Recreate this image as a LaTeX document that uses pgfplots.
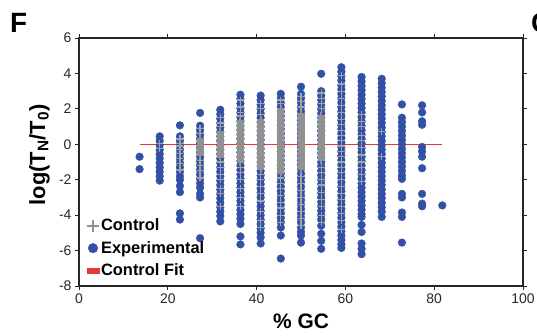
\documentclass[border=0pt]{standalone}
\usepackage{fontspec}
\setmainfont{Liberation Sans}
\usepackage{pgfplots}
\pgfplotsset{compat=1.18}
\definecolor{expblue}{RGB}{50,80,165}
\definecolor{ctlgray}{RGB}{145,145,145}
\definecolor{fitred}{RGB}{232,55,55}
\begin{document}
\begin{tikzpicture}[x=1bp,y=1bp]
\begin{axis}[
  at={(79bp,-286bp)}, anchor=south west, scale only axis,
  width=444bp, height=248bp,
  xmin=0, xmax=100, ymin=-8, ymax=6,
  xtick={0,20,40,60,80,100}, ytick={-8,-6,-4,-2,0,2,4,6},
  tick align=outside, major tick length=4bp,
  axis line style={line width=1.2bp, black!85},
  tick style={line width=1bp, black!85},
  ticklabel style={font=\fontsize{14}{16}\selectfont, text=black!85},
  /pgf/number format/assume math mode=true,
  clip=false,
  exp/.style={only marks, mark=*, mark size=3.9bp, color=expblue, mark options={draw=expblue, fill=expblue, line width=0.3bp}, forget plot},
  ctl/.style={only marks, mark=+, mark size=3.5bp, color=ctlgray!85!white, mark options={line width=1.2bp}, forget plot},
  ctld/.style={only marks, mark=+, mark size=3.5bp, color=ctlgray, mark options={line width=1.9bp}, forget plot},
  legend style={draw=none, fill=none, at={(axis cs:1.5,-4.15)}, anchor=north west,
    font=\bfseries\fontsize{16.5}{18}\selectfont, row sep=7bp, inner sep=0pt,
    nodes={inner sep=1bp}},
  legend cell align=left,
]
% Experimental
\addplot[exp] coordinates {(13.64,-0.7)(13.64,-1.4)};
\addplot[exp] coordinates {(18.18,0.45)(18.18,0.2)(18.18,-0.05)(18.18,-0.3)(18.18,-0.55)(18.18,-0.8)(18.18,-1.05)(18.18,-1.3)(18.18,-1.55)(18.18,-1.8)(18.18,-2.05)};
\addplot[exp] coordinates {(22.73,1.07)(22.73,0.45)(22.73,0.2)(22.73,-0.05)(22.73,-0.3)(22.73,-0.55)(22.73,-0.8)(22.73,-1.05)(22.73,-1.3)(22.73,-1.55)(22.73,-1.8)(22.73,-2.0)(22.73,-2.35)(22.73,-2.7)(22.73,-3.9)(22.73,-4.25)};
\addplot[exp] coordinates {(27.27,1.77)(27.27,1.05)(27.27,0.8)(27.27,0.55)(27.27,0.3)(27.27,0.05)(27.27,-0.2)(27.27,-0.45)(27.27,-0.7)(27.27,-0.95)(27.27,-1.2)(27.27,-1.45)(27.27,-1.7)(27.27,-1.95)(27.27,-2.2)(27.27,-2.45)(27.27,-2.8)(27.27,-3.0)(27.27,-5.3)};
\addplot[exp] coordinates {(31.82,1.95)(31.82,1.7)(31.82,1.45)(31.82,1.2)(31.82,0.95)(31.82,0.7)(31.82,0.45)(31.82,0.2)(31.82,-0.05)(31.82,-0.3)(31.82,-0.55)(31.82,-0.8)(31.82,-1.05)(31.82,-1.3)(31.82,-1.55)(31.82,-1.8)(31.82,-2.05)(31.82,-2.3)(31.82,-2.55)(31.82,-2.8)(31.82,-3.05)(31.82,-3.3)(31.82,-3.55)(31.82,-3.8)(31.82,-4.05)(31.82,-4.35)};
\addplot[exp] coordinates {(36.36,2.8)(36.36,2.55)(36.36,2.3)(36.36,2.05)(36.36,1.8)(36.36,1.55)(36.36,1.3)(36.36,1.05)(36.36,0.8)(36.36,0.55)(36.36,0.3)(36.36,0.05)(36.36,-0.2)(36.36,-0.45)(36.36,-0.7)(36.36,-0.95)(36.36,-1.2)(36.36,-1.45)(36.36,-1.7)(36.36,-1.95)(36.36,-2.2)(36.36,-2.45)(36.36,-2.7)(36.36,-2.95)(36.36,-3.2)(36.36,-3.45)(36.36,-3.7)(36.36,-3.95)(36.36,-4.2)(36.36,-4.5)(36.36,-5.2)(36.36,-5.65)};
\addplot[exp] coordinates {(40.91,2.75)(40.91,2.5)(40.91,2.25)(40.91,2.0)(40.91,1.75)(40.91,1.5)(40.91,1.25)(40.91,1.0)(40.91,0.75)(40.91,0.5)(40.91,0.25)(40.91,0)(40.91,-0.25)(40.91,-0.5)(40.91,-0.75)(40.91,-1.0)(40.91,-1.25)(40.91,-1.5)(40.91,-1.75)(40.91,-2.0)(40.91,-2.25)(40.91,-2.5)(40.91,-2.75)(40.91,-3.0)(40.91,-3.25)(40.91,-3.5)(40.91,-3.75)(40.91,-4.0)(40.91,-4.25)(40.91,-4.5)(40.91,-4.75)(40.91,-5.0)(40.91,-5.25)(40.91,-5.6)};
\addplot[exp] coordinates {(45.45,2.85)(45.45,2.6)(45.45,2.35)(45.45,2.1)(45.45,1.85)(45.45,1.6)(45.45,1.35)(45.45,1.1)(45.45,0.85)(45.45,0.6)(45.45,0.35)(45.45,0.1)(45.45,-0.15)(45.45,-0.4)(45.45,-0.65)(45.45,-0.9)(45.45,-1.15)(45.45,-1.4)(45.45,-1.65)(45.45,-1.9)(45.45,-2.15)(45.45,-2.4)(45.45,-2.65)(45.45,-2.9)(45.45,-3.15)(45.45,-3.4)(45.45,-3.65)(45.45,-3.9)(45.45,-4.15)(45.45,-4.4)(45.45,-4.7)(45.45,-5.15)(45.45,-6.45)};
\addplot[exp] coordinates {(50,3.25)(50,2.85)(50,2.6)(50,2.35)(50,2.1)(50,1.85)(50,1.6)(50,1.35)(50,1.1)(50,0.85)(50,0.6)(50,0.35)(50,0.1)(50,-0.15)(50,-0.4)(50,-0.65)(50,-0.9)(50,-1.15)(50,-1.4)(50,-1.65)(50,-1.9)(50,-2.15)(50,-2.4)(50,-2.65)(50,-2.9)(50,-3.15)(50,-3.4)(50,-3.65)(50,-3.9)(50,-4.15)(50,-4.4)(50,-4.7)(50,-4.95)(50,-5.15)(50,-5.55)};
\addplot[exp] coordinates {(54.55,3.98)(54.55,3.0)(54.55,2.75)(54.55,2.5)(54.55,2.25)(54.55,2.0)(54.55,1.75)(54.55,1.5)(54.55,1.25)(54.55,1.0)(54.55,0.75)(54.55,0.5)(54.55,0.25)(54.55,0)(54.55,-0.25)(54.55,-0.5)(54.55,-0.75)(54.55,-1.0)(54.55,-1.25)(54.55,-1.5)(54.55,-1.75)(54.55,-2.0)(54.55,-2.25)(54.55,-2.5)(54.55,-2.75)(54.55,-3.0)(54.55,-3.25)(54.55,-3.5)(54.55,-3.75)(54.55,-4.0)(54.55,-4.25)(54.55,-4.6)(54.55,-5.05)(54.55,-5.45)(54.55,-5.9)};
\addplot[exp] coordinates {(59.09,4.35)(59.09,4.1)(59.09,3.85)(59.09,3.6)(59.09,3.35)(59.09,3.1)(59.09,2.85)(59.09,2.6)(59.09,2.35)(59.09,2.1)(59.09,1.85)(59.09,1.6)(59.09,1.35)(59.09,1.1)(59.09,0.85)(59.09,0.6)(59.09,0.35)(59.09,0.1)(59.09,-0.15)(59.09,-0.4)(59.09,-0.65)(59.09,-0.9)(59.09,-1.15)(59.09,-1.4)(59.09,-1.65)(59.09,-1.9)(59.09,-2.15)(59.09,-2.4)(59.09,-2.65)(59.09,-2.9)(59.09,-3.15)(59.09,-3.4)(59.09,-3.65)(59.09,-3.9)(59.09,-4.15)(59.09,-4.4)(59.09,-4.65)(59.09,-4.9)(59.09,-5.15)(59.09,-5.4)(59.09,-5.65)(59.09,-5.85)};
\addplot[exp] coordinates {(63.64,3.8)(63.64,3.55)(63.64,3.3)(63.64,3.05)(63.64,2.8)(63.64,2.55)(63.64,2.3)(63.64,2.05)(63.64,1.8)(63.64,1.55)(63.64,1.3)(63.64,1.05)(63.64,0.8)(63.64,0.55)(63.64,0.3)(63.64,0.05)(63.64,-0.2)(63.64,-0.45)(63.64,-0.7)(63.64,-0.95)(63.64,-1.2)(63.64,-1.45)(63.64,-1.7)(63.64,-1.95)(63.64,-2.2)(63.64,-2.45)(63.64,-2.7)(63.64,-2.95)(63.64,-3.2)(63.64,-3.45)(63.64,-3.7)(63.64,-3.95)(63.64,-4.1)(63.64,-4.55)(63.64,-4.95)(63.64,-5.6)(63.64,-5.9)(63.64,-6.2)};
\addplot[exp] coordinates {(68.18,3.7)(68.18,3.45)(68.18,3.2)(68.18,2.95)(68.18,2.7)(68.18,2.45)(68.18,2.2)(68.18,1.95)(68.18,1.7)(68.18,1.45)(68.18,1.2)(68.18,0.95)(68.18,0.7)(68.18,0.45)(68.18,0.2)(68.18,-0.05)(68.18,-0.3)(68.18,-0.55)(68.18,-0.8)(68.18,-1.05)(68.18,-1.3)(68.18,-1.55)(68.18,-1.8)(68.18,-2.05)(68.18,-2.3)(68.18,-2.55)(68.18,-2.8)(68.18,-3.05)(68.18,-3.3)(68.18,-3.55)(68.18,-3.8)(68.18,-4.1)};
\addplot[exp] coordinates {(72.73,2.25)(72.73,1.5)(72.73,1.25)(72.73,1.0)(72.73,0.75)(72.73,0.5)(72.73,0.25)(72.73,0)(72.73,-0.25)(72.73,-0.5)(72.73,-0.75)(72.73,-1.0)(72.73,-1.25)(72.73,-1.5)(72.73,-1.75)(72.73,-1.95)(72.73,-2.8)(72.73,-3.0)(72.73,-3.85)(72.73,-4.1)(72.73,-5.55)};
\addplot[exp] coordinates {(77.27,2.2)(77.27,1.8)(77.27,1.3)(77.27,1.1)(77.27,-0.15)(77.27,-0.4)(77.27,-0.7)(77.27,-1.35)(77.27,-2.8)(77.27,-3.35)(77.27,-3.5)};
\addplot[exp] coordinates {(81.82,-3.45)};
% Control: sparse
\addplot[ctl] coordinates {(18.18,0.05)(18.18,-0.25)};
\addplot[ctl] coordinates {(22.73,0.3)(22.73,0.05)(22.73,-0.1)(22.73,-0.3)(22.73,-0.5)(22.73,-0.8)(22.73,-1.1)(22.73,-1.45)};
\addplot[ctl] coordinates {(27.27,0.9)(27.27,0.6)(27.27,-0.9)(27.27,-1.2)(27.27,-1.5)(27.27,-1.9)};
\addplot[ctl] coordinates {(31.82,1.5)(31.82,1.2)(31.82,1.0)(31.82,-1.0)(31.82,-1.3)(31.82,-1.7)(31.82,-2.0)(31.82,-2.5)(31.82,-2.8)(31.82,-3.5)};
\addplot[ctl] coordinates {(36.36,2.5)(36.36,2.1)(36.36,1.8)(36.36,1.6)(36.36,-1.3)(36.36,-1.6)(36.36,-2.0)(36.36,-2.5)(36.36,-3.0)(36.36,-3.5)};
\addplot[ctl] coordinates {(40.91,2.3)(40.91,2.0)(40.91,1.7)(40.91,-1.7)(40.91,-2.0)(40.91,-2.4)(40.91,-2.8)(40.91,-3.2)(40.91,-3.8)(40.91,-4.3)(40.91,-4.7)};
\addplot[ctl] coordinates {(45.45,2.5)(45.45,2.3)(45.45,-1.9)(45.45,-2.2)(45.45,-2.5)(45.45,-2.9)(45.45,-3.3)(45.45,-3.6)(45.45,-4.0)(45.45,-4.4)};
\addplot[ctl] coordinates {(50,2.7)(50,2.4)(50,2.1)(50,-1.8)(50,-2.2)(50,-2.6)(50,-3.0)(50,-3.4)(50,-3.8)(50,-4.2)(50,-4.6)};
\addplot[ctl] coordinates {(54.55,2.9)(54.55,2.6)(54.55,2.3)(54.55,2.0)(54.55,-1.3)(54.55,-1.6)(54.55,-2.0)(54.55,-2.3)(54.55,-2.7)(54.55,-3.1)(54.55,-3.5)(54.55,-4.0)(54.55,-4.4)};
\addplot[ctl] coordinates {(59.09,3.9)(59.09,3.4)(59.09,3.0)(59.09,2.6)(59.09,2.2)(59.09,1.8)(59.09,1.4)(59.09,1.1)(59.09,0.8)(59.09,0.5)(59.09,0.2)(59.09,-0.1)(59.09,-0.4)(59.09,-0.7)(59.09,-1.0)(59.09,-1.3)(59.09,-1.6)(59.09,-2.0)(59.09,-2.4)(59.09,-2.8)(59.09,-3.1)(59.09,-3.5)(59.09,-3.9)(59.09,-4.3)(59.09,-4.8)};
\addplot[ctl] coordinates {(63.64,1.7)(63.64,1.3)(63.64,1.0)(63.64,0.5)(63.64,0.2)(63.64,-0.2)(63.64,-0.6)(63.64,-1.0)(63.64,-1.3)(63.64,-1.7)(63.64,-2.1)};
\addplot[ctl] coordinates {(68.18,0.7)(68.18,-0.7)};
% Control: dense cores
\addplot[ctld] coordinates {(27.27,0.3)(27.27,0.2)(27.27,0.1)(27.27,0)(27.27,-0.1)(27.27,-0.2)(27.27,-0.3)(27.27,-0.4)(27.27,-0.5)(27.27,-0.6)};
\addplot[ctld] coordinates {(31.82,0.7)(31.82,0.6)(31.82,0.5)(31.82,0.4)(31.82,0.3)(31.82,0.2)(31.82,0.1)(31.82,0)(31.82,-0.1)(31.82,-0.2)(31.82,-0.3)(31.82,-0.4)(31.82,-0.5)(31.82,-0.6)(31.82,-0.7)};
\addplot[ctld] coordinates {(36.36,1.3)(36.36,1.2)(36.36,1.1)(36.36,1.0)(36.36,0.9)(36.36,0.8)(36.36,0.7)(36.36,0.6)(36.36,0.5)(36.36,0.4)(36.36,0.3)(36.36,0.2)(36.36,0.1)(36.36,0)(36.36,-0.1)(36.36,-0.2)(36.36,-0.3)(36.36,-0.4)(36.36,-0.5)(36.36,-0.6)(36.36,-0.7)(36.36,-0.8)(36.36,-0.9)(36.36,-1.0)};
\addplot[ctld] coordinates {(40.91,1.4)(40.91,1.3)(40.91,1.2)(40.91,1.1)(40.91,1.0)(40.91,0.9)(40.91,0.8)(40.91,0.7)(40.91,0.6)(40.91,0.5)(40.91,0.4)(40.91,0.3)(40.91,0.2)(40.91,0.1)(40.91,0)(40.91,-0.1)(40.91,-0.2)(40.91,-0.3)(40.91,-0.4)(40.91,-0.5)(40.91,-0.6)(40.91,-0.7)(40.91,-0.8)(40.91,-0.9)(40.91,-1.0)(40.91,-1.1)(40.91,-1.2)(40.91,-1.3)(40.91,-1.4)};
\addplot[ctld] coordinates {(45.45,2.0)(45.45,1.9)(45.45,1.8)(45.45,1.7)(45.45,1.6)(45.45,1.5)(45.45,1.4)(45.45,1.3)(45.45,1.2)(45.45,1.1)(45.45,1.0)(45.45,0.9)(45.45,0.8)(45.45,0.7)(45.45,0.6)(45.45,0.5)(45.45,0.4)(45.45,0.3)(45.45,0.2)(45.45,0.1)(45.45,0)(45.45,-0.1)(45.45,-0.2)(45.45,-0.3)(45.45,-0.4)(45.45,-0.5)(45.45,-0.6)(45.45,-0.7)(45.45,-0.8)(45.45,-0.9)(45.45,-1.0)(45.45,-1.1)(45.45,-1.2)(45.45,-1.3)(45.45,-1.4)(45.45,-1.5)(45.45,-1.6)};
\addplot[ctld] coordinates {(50,1.7)(50,1.6)(50,1.5)(50,1.4)(50,1.3)(50,1.2)(50,1.1)(50,1.0)(50,0.9)(50,0.8)(50,0.7)(50,0.6)(50,0.5)(50,0.4)(50,0.3)(50,0.2)(50,0.1)(50,0)(50,-0.1)(50,-0.2)(50,-0.3)(50,-0.4)(50,-0.5)(50,-0.6)(50,-0.7)(50,-0.8)(50,-0.9)(50,-1.0)(50,-1.1)(50,-1.2)(50,-1.3)(50,-1.4)};
\addplot[ctld] coordinates {(54.55,1.6)(54.55,1.5)(54.55,1.4)(54.55,1.3)(54.55,1.2)(54.55,1.1)(54.55,1.0)(54.55,0.9)(54.55,0.8)(54.55,0.7)(54.55,0.6)(54.55,0.5)(54.55,0.4)(54.55,0.3)(54.55,0.2)(54.55,0.1)(54.55,0)(54.55,-0.1)(54.55,-0.2)(54.55,-0.3)(54.55,-0.4)(54.55,-0.5)(54.55,-0.6)(54.55,-0.7)(54.55,-0.8)(54.55,-0.9)};
% Control fit
\addplot[fitred, line width=0.7bp, forget plot] coordinates {(13.64,0) (81.82,0)};
% Legend
\addlegendimage{legend image code/.code={\draw[ctlgray, line width=2.2bp] (-6bp,0)--(6bp,0) (0,-6bp)--(0,6bp);}}
\addlegendentry{Control}
\addlegendimage{legend image code/.code={\fill[expblue] (0,0) circle (4.8bp);}}
\addlegendentry{Experimental}
\addlegendimage{legend image code/.code={\fill[fitred] (-6bp,-2.2bp) rectangle (6bp,2.2bp);}}
\addlegendentry{Control Fit}
\end{axis}
\node[rotate=90, anchor=base, font=\bfseries\fontsize{22}{24}\selectfont] at (45,-155) {log(T\textsubscript{N}/T\textsubscript{0})};
\node[anchor=base, font=\bfseries\fontsize{21}{24}\selectfont] at (301,-328) {\% GC};
\node[anchor=base west, inner sep=0pt, font=\bfseries\fontsize{28}{30}\selectfont] at (10,-32) {F};
\node[anchor=base west, inner sep=0pt, font=\bfseries\fontsize{28}{30}\selectfont] at (531,-32) {G};
\pgfresetboundingbox
\path (0,0) rectangle (537,-335);
\end{tikzpicture}
\end{document}
